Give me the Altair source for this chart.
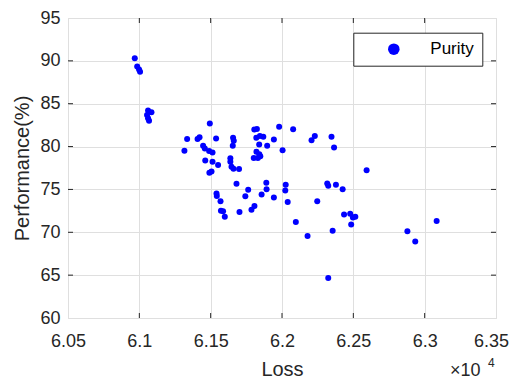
import altair as alt
import pandas as pd

# Loss values (raw units) and Performance (%)
loss = [
    60968, 60985, 60998, 61005, 61061, 61085, 61054, 61061, 61068,
    61494, 61335, 61316, 61408, 61422, 61538, 61447, 61459, 61489, 61513,
    61462, 61513, 61552, 61491, 61506, 61657, 61662, 61655, 61638, 61638,
    61646, 61660, 61699, 61806, 61824, 61820, 61845, 61869, 61840, 61896,
    61943, 61980, 62004, 61821, 61841, 61802, 61831, 61848, 62078, 62207,
    62230, 62347, 62365, 61681, 61763, 61743, 61541, 61543, 61569, 61572,
    61587, 61599, 61702, 61786, 61807, 61857, 61890, 61892, 61943, 62026,
    62023, 62040, 62097, 62179, 62247, 62317, 62324, 62378, 62425, 62435,
    62478, 62497, 62514, 62485, 62355, 62324, 62593, 62879, 62934, 63084,
]
performance = [
    90.30, 89.33, 88.99, 88.73, 84.20, 83.99, 83.67, 83.29, 83.00,
    82.70, 80.87, 79.50, 80.87, 81.10, 80.95, 80.09, 79.78, 79.47, 79.32,
    78.38, 78.22, 77.86, 76.96, 77.10, 81.04, 80.69, 80.09, 78.65, 78.24,
    77.66, 77.40, 77.37, 81.98, 82.04, 81.02, 81.22, 81.14, 80.23, 80.09,
    80.83, 82.31, 79.58, 79.41, 79.09, 78.68, 78.68, 78.88, 82.01, 80.75,
    81.22, 81.14, 79.90, 75.67, 74.95, 74.21, 74.53, 74.24, 73.63, 72.50,
    72.46, 71.80, 72.37, 72.62, 73.07, 74.41, 75.79, 75.03, 74.06, 75.56,
    74.88, 73.54, 71.21, 69.58, 73.63, 75.70, 75.44, 75.56, 75.01, 72.08,
    72.15, 71.72, 71.82, 70.91, 70.18, 64.67, 77.25, 70.12, 68.92, 71.33,
]
series_name = "Purity"

x_ticks = [6.05, 6.10, 6.15, 6.20, 6.25, 6.30, 6.35]
y_ticks = [60, 65, 70, 75, 80, 85, 90, 95]

FONT = "Liberation Sans"
TXT = "#262626"
W, H = 428, 300

df = pd.DataFrame({"loss": loss, "perf": performance})
df["loss_e4"] = df["loss"] / 1e4
df["series"] = series_name

xscale = alt.Scale(domain=[6.05, 6.35], nice=False, zero=False)
yscale = alt.Scale(domain=[60, 95], nice=False, zero=False)

points = alt.Chart(df).mark_point(filled=True, size=36, opacity=1, shape="circle").encode(
    x=alt.X("loss_e4:Q", scale=xscale,
            axis=alt.Axis(values=x_ticks, title="Loss", labelExpr="format(datum.value, '.2~f')",
                          grid=True, gridColor="#dfdfdf", ticks=False, domain=False,
                          labelFlush=False, labelOverlap=False,
                          labelOffset={"condition": {"test": "datum.value > 6.34", "value": -5}, "value": 0},
                          labelPadding=14, labelFontSize=18, labelFont=FONT, labelColor=TXT,
                          titleFontSize=20, titleFont=FONT, titleColor=TXT, titleFontWeight="normal",
                          titleY=57, titleBaseline="alphabetic")),
    y=alt.Y("perf:Q", scale=yscale,
            axis=alt.Axis(values=y_ticks, title="Performance(%)",
                          grid=True, gridColor="#dfdfdf", ticks=False, domain=False,
                          labelFlush=False, labelOverlap=False,
                          labelPadding=8, labelFontSize=18, labelFont=FONT, labelColor=TXT,
                          titleFontSize=20, titleFont=FONT, titleColor=TXT, titleFontWeight="normal",
                          titleX=-40, titleBaseline="alphabetic")),
    color=alt.Color("series:N", scale=alt.Scale(domain=[series_name], range=["#0000ff"]),
                    legend=alt.Legend(title=None, orient="none", legendX=285.3, legendY=14.7,
                                      strokeColor=TXT, fillColor="white", padding=8,
                                      symbolSize=133, symbolType="circle", symbolOffset=24,
                                      symbolStrokeWidth=0, labelOffset=28,
                                      labelFontSize=17, labelFont=FONT, labelColor="black")),
)

xt = pd.DataFrame({"v": x_ticks[1:-1]})
yt = pd.DataFrame({"v": y_ticks[1:-1]})
tick_style = dict(color=TXT, strokeWidth=1)
xb = alt.Chart(xt).mark_rule(**tick_style).encode(x=alt.X("v:Q", scale=xscale), y=alt.value(H), y2=alt.value(H - 5))
xtop = alt.Chart(xt).mark_rule(**tick_style).encode(x=alt.X("v:Q", scale=xscale), y=alt.value(0), y2=alt.value(5))
yl = alt.Chart(yt).mark_rule(**tick_style).encode(y=alt.Y("v:Q", scale=yscale), x=alt.value(0), x2=alt.value(5))
yr = alt.Chart(yt).mark_rule(**tick_style).encode(y=alt.Y("v:Q", scale=yscale), x=alt.value(W - 5), x2=alt.value(W))

mult = alt.Chart(pd.DataFrame({"t": ["×10"]})).mark_text(
    align="left", baseline="alphabetic", fontSize=18, font=FONT, color=TXT
).encode(text="t:N", x=alt.value(382), y=alt.value(358))
expo = alt.Chart(pd.DataFrame({"t": ["4"]})).mark_text(
    align="left", baseline="alphabetic", fontSize=12, font=FONT, color=TXT
).encode(text="t:N", x=alt.value(420), y=alt.value(349))

chart = alt.layer(points, xb, xtop, yl, yr, mult, expo).properties(
    width=W, height=H,
    autosize=alt.AutoSizeParams(type="none"),
    padding={"left": 60, "top": 10, "right": 13, "bottom": 61},
).configure_view(stroke=TXT, strokeWidth=1).configure(background="white")

chart.save("out.html", embed_options={"renderer": "svg", "actions": False})
